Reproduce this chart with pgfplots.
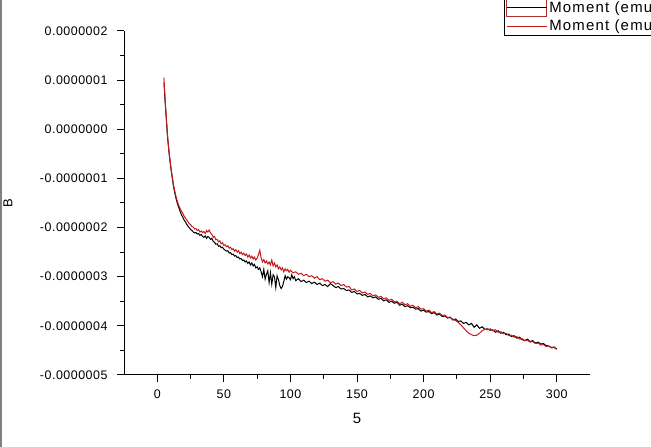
\documentclass[border=0pt]{standalone}
\usepackage{fontspec}
\setmainfont{Liberation Sans}
\usepackage{pgfplots}
\pgfplotsset{compat=1.18}
\definecolor{momred}{RGB}{195,26,26}
\definecolor{selred}{RGB}{170,50,50}

% moment values in units of 1e-7 emu
\pgfplotstableread{
x y
5 0.95
5.5 0.75
6 0.52
6.5 0.32
7 0.12
7.5 -0.08
8 -0.25
9 -0.52
10 -0.75
11 -0.95
12 -1.13
13 -1.28
14 -1.40
15 -1.50
16 -1.58
17 -1.66
18 -1.73
19 -1.78
20 -1.84
21 -1.88
22 -1.93
23 -1.97
24 -2.00
25 -2.04
26 -2.06
27 -2.09
28 -2.11
29 -2.10
30 -2.13
31 -2.12
32 -2.16
33 -2.14
34 -2.18
35 -2.20
36 -2.17
37 -2.22
38 -2.18
39 -2.20
40 -2.24
41 -2.22
42 -2.28
43 -2.30
44 -2.34
45 -2.33
46 -2.38
47 -2.37
48 -2.41
49 -2.40
50 -2.44
51 -2.46
52 -2.48
53 -2.47
54 -2.52
55 -2.51
56 -2.55
57 -2.54
58 -2.58
59 -2.57
60 -2.61
61 -2.60
62 -2.64
63 -2.63
64 -2.67
65 -2.66
66 -2.70
67 -2.68
68 -2.73
69 -2.70
70 -2.76
71 -2.72
72 -2.78
73 -2.75
74 -2.82
75 -2.80
76 -2.85
77 -2.82
78 -2.90
79 -3.00
80 -2.85
81 -3.05
82 -2.95
83 -2.88
84 -3.12
85 -2.92
86 -3.15
87 -2.96
88 -3.00
89 -3.22
90 -2.98
91 -3.06
92 -3.18
93 -3.24
94 -3.20
95 -3.10
96 -2.98
97 -3.05
98 -3.00
99 -3.02
100 -3.06
101 -2.96
102 -3.04
103 -3.00
104 -3.08
106 -3.04
108 -3.10
110 -3.07
112 -3.12
114 -3.09
116 -3.14
118 -3.11
120 -3.16
122 -3.13
124 -3.18
126 -3.16
128 -3.20
130 -3.14
132 -3.18
134 -3.22
136 -3.20
138 -3.25
140 -3.24
142 -3.28
144 -3.27
146 -3.32
148 -3.30
150 -3.35
152 -3.34
154 -3.38
156 -3.36
158 -3.41
160 -3.39
162 -3.43
164 -3.41
166 -3.46
168 -3.44
170 -3.49
172 -3.47
174 -3.52
176 -3.50
178 -3.54
180 -3.52
182 -3.58
184 -3.56
186 -3.61
188 -3.59
190 -3.63
192 -3.62
194 -3.66
196 -3.65
198 -3.70
200 -3.68
202 -3.72
204 -3.71
206 -3.75
208 -3.73
210 -3.78
212 -3.76
214 -3.81
216 -3.80
218 -3.84
220 -3.83
222 -3.88
224 -3.86
226 -3.91
228 -3.90
230 -3.95
232 -3.93
234 -3.98
236 -3.95
238 -4.03
240 -3.98
242 -4.05
244 -4.02
246 -4.07
248 -4.06
250 -4.09
252 -4.08
254 -4.13
256 -4.10
258 -4.15
260 -4.13
262 -4.18
264 -4.17
266 -4.22
268 -4.20
270 -4.25
272 -4.23
274 -4.28
276 -4.30
278 -4.27
280 -4.32
282 -4.30
284 -4.35
286 -4.33
288 -4.37
290 -4.36
292 -4.40
294 -4.41
296 -4.44
298 -4.43
300 -4.47
}\blackdata

\pgfplotstableread{
x y
5 1.05
5.5 0.80
6 0.55
6.5 0.35
7 0.15
7.5 -0.05
8 -0.22
9 -0.50
10 -0.72
11 -0.92
12 -1.10
13 -1.24
14 -1.36
15 -1.46
16 -1.54
17 -1.60
18 -1.66
19 -1.70
20 -1.76
21 -1.80
22 -1.84
23 -1.88
24 -1.92
25 -1.94
26 -1.98
27 -1.99
28 -2.03
29 -2.02
30 -2.06
31 -2.04
32 -2.09
33 -2.07
34 -2.10
35 -2.08
36 -2.12
37 -2.06
38 -2.09
39 -2.05
40 -2.11
41 -2.14
42 -2.20
43 -2.18
44 -2.25
45 -2.24
46 -2.29
47 -2.27
48 -2.33
49 -2.31
50 -2.36
51 -2.35
52 -2.39
53 -2.37
54 -2.42
55 -2.40
56 -2.45
57 -2.43
58 -2.48
59 -2.45
60 -2.50
61 -2.47
62 -2.53
63 -2.50
64 -2.55
65 -2.52
66 -2.57
67 -2.54
68 -2.60
69 -2.56
70 -2.62
71 -2.58
72 -2.64
73 -2.60
74 -2.66
75 -2.62
76 -2.55
77 -2.46
78 -2.62
79 -2.70
80 -2.65
81 -2.72
82 -2.68
83 -2.74
84 -2.70
85 -2.76
86 -2.66
87 -2.78
88 -2.72
89 -2.80
90 -2.76
91 -2.84
92 -2.80
93 -2.86
94 -2.82
95 -2.90
96 -2.84
97 -2.88
98 -2.85
99 -2.91
100 -2.87
102 -2.92
104 -2.90
106 -2.95
108 -2.93
110 -2.98
112 -2.95
114 -3.00
116 -2.98
118 -3.03
120 -3.00
122 -3.06
124 -3.04
126 -3.09
128 -3.07
130 -3.12
132 -3.10
134 -3.15
136 -3.13
138 -3.18
140 -3.16
142 -3.21
144 -3.20
146 -3.27
148 -3.25
150 -3.30
152 -3.28
154 -3.33
156 -3.31
158 -3.36
160 -3.34
162 -3.39
164 -3.37
166 -3.42
168 -3.40
170 -3.45
172 -3.43
174 -3.48
176 -3.46
178 -3.51
180 -3.50
182 -3.55
184 -3.52
186 -3.57
188 -3.55
190 -3.60
192 -3.58
194 -3.63
196 -3.61
198 -3.66
200 -3.65
202 -3.70
204 -3.68
206 -3.73
208 -3.71
210 -3.76
212 -3.74
214 -3.79
216 -3.78
218 -3.83
220 -3.82
222 -3.87
224 -3.89
226 -3.93
228 -3.98
230 -4.04
232 -4.10
234 -4.15
236 -4.18
238 -4.20
240 -4.19
242 -4.15
244 -4.10
246 -4.07
248 -4.08
250 -4.06
252 -4.10
254 -4.08
256 -4.13
258 -4.12
260 -4.16
262 -4.15
264 -4.20
266 -4.19
268 -4.23
270 -4.22
272 -4.27
274 -4.26
276 -4.30
278 -4.29
280 -4.33
282 -4.32
284 -4.36
286 -4.35
288 -4.39
290 -4.38
292 -4.42
294 -4.41
296 -4.45
298 -4.44
300 -4.48
}\reddata

\begin{document}
\begin{tikzpicture}
\path[use as bounding box] (0,0) rectangle (651bp,447bp);
\clip (0,0) rectangle (651bp,447bp);
\draw[gray, line width=1.5bp] (0.75bp,0) -- (0.75bp,447bp);
\begin{axis}[
  at={(124bp,72bp)}, anchor=south west,
  scale only axis, width=466bp, height=344bp,
  xmin=-25, xmax=325, ymin=-5, ymax=2,
  axis x line*=bottom, axis y line*=left,
  axis line style={line width=1bp},
  every tick/.style={black, line width=1bp},
  tick align=outside,
  major tick length=7bp, minor tick length=4bp,
  xtick={0,50,...,300}, minor x tick num=1,
  ytick={-5,-4,...,2}, minor y tick num=1,
  yticklabels={-0.0000005,-0.0000004,-0.0000003,-0.0000002,-0.0000001,0.0000000,0.0000001,0.0000002},
  /pgf/number format/assume math mode=true,
  tick label style={font=\fontsize{12.5}{13}\selectfont\addfontfeatures{LetterSpace=4}},
  y tick label style={xshift=-6bp},
  x tick label style={yshift=-4bp},
  xlabel={5}, ylabel={B},
  x label style={at={(axis description cs:0.5,-0.125)}, anchor=center, font=\fontsize{15}{15}\selectfont},
  y label style={at={(axis description cs:-0.249,0.5)}, anchor=center, font=\fontsize{13}{13}\selectfont},
  legend style={at={(0.815,1.100)}, anchor=north west, draw=black, line width=1bp,
    font=\fontsize{15}{15}\selectfont\addfontfeatures{LetterSpace=8}, inner xsep=2bp, inner ysep=1bp,
    row sep=1bp, legend cell align=left},
  legend image code/.code={\draw[#1] (0bp,0bp) -- (40bp,0bp);},
]
\addplot[black, line width=1bp, legend image code/.code={%
  \draw[selred, line width=1bp] (0bp,-9bp) rectangle (40bp,9bp);
  \draw[black, line width=1bp] (0bp,0bp) -- (40bp,0bp);}] table[x=x,y=y] {\blackdata};
\addlegendentry{Moment (emu)}
\addplot[momred, line width=1bp] table[x=x,y=y] {\reddata};
\addlegendentry{Moment (emu)}
\end{axis}
\end{tikzpicture}
\end{document}
